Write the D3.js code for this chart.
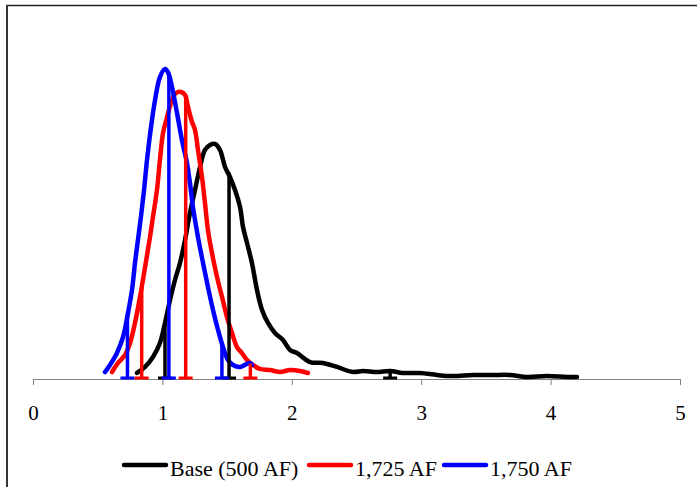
<!DOCTYPE html>
<html>
<head>
    <meta charset="utf-8">
    <style>
        body {
            margin: 0;
            background: white;
        }

        svg {
            display: block;
        }

        svg text {
            font-family: 'Liberation Serif', 'Times New Roman', serif;
        }

        .x .domain {
            stroke: #808080;
        }

        .x .tick line {
            stroke: #808080;
        }

        .legend text {
            font-size: 22px;
            fill: #000;
        }
    </style>
</head>
<body>
    <svg width="697" height="487"></svg>

<script src="https://d3js.org/d3.v7.min.js"></script>
<script>
    // curves: [x, density]
    let baseCurve = [
        [0.804, 0.051], [0.866, 0.102], [0.927, 0.186], [0.981, 0.305], [1.02, 0.475],
        [1.059, 0.669], [1.097, 0.839], [1.136, 0.983], [1.175, 1.178], [1.213, 1.407],
        [1.252, 1.602], [1.291, 1.797], [1.329, 1.941], [1.368, 1.983], [1.406, 1.992],
        [1.445, 1.941], [1.484, 1.797], [1.522, 1.712], [1.561, 1.602], [1.60, 1.458],
        [1.623, 1.288], [1.654, 1.153], [1.692, 0.983], [1.731, 0.754], [1.77, 0.585],
        [1.816, 0.475], [1.87, 0.39], [1.932, 0.33], [1.986, 0.246], [2.04, 0.22],
        [2.141, 0.144], [2.241, 0.136], [2.349, 0.102], [2.473, 0.059], [2.55, 0.068],
        [2.658, 0.059], [2.759, 0.068], [2.859, 0.051], [2.991, 0.051], [3.122, 0.034],
        [3.246, 0.025], [3.40, 0.034], [3.555, 0.034], [3.686, 0.034], [3.818, 0.017],
        [3.972, 0.025], [4.127, 0.017], [4.204, 0.017]
    ]

    let curve1725 = [
        [0.611, 0.059], [0.657, 0.136], [0.711, 0.203], [0.75, 0.305], [0.788, 0.475],
        [0.827, 0.695], [0.866, 0.949], [0.904, 1.203], [0.927, 1.373], [0.958, 1.602],
        [0.981, 1.856], [1.005, 2.085], [1.036, 2.22], [1.074, 2.364], [1.105, 2.424],
        [1.144, 2.432], [1.175, 2.407], [1.198, 2.305], [1.229, 2.178], [1.252, 2.11],
        [1.275, 1.941], [1.306, 1.712], [1.329, 1.492], [1.352, 1.263], [1.383, 1.068],
        [1.422, 0.864], [1.461, 0.695], [1.499, 0.525], [1.538, 0.39], [1.576, 0.271],
        [1.615, 0.22], [1.654, 0.161], [1.70, 0.119], [1.754, 0.085], [1.832, 0.076],
        [1.909, 0.059], [1.986, 0.076], [2.063, 0.068], [2.125, 0.051]
    ]

    let curve1750 = [
        [0.556, 0.059], [0.595, 0.119], [0.649, 0.22], [0.696, 0.356], [0.734, 0.559],
        [0.765, 0.754], [0.788, 0.983], [0.811, 1.178], [0.834, 1.373], [0.858, 1.60],
        [0.881, 1.856], [0.906, 2.085], [0.943, 2.364], [0.981, 2.559], [1.02, 2.627],
        [1.043, 2.60], [1.074, 2.475], [1.113, 2.254], [1.151, 2.025], [1.19, 1.83],
        [1.213, 1.661], [1.236, 1.458], [1.275, 1.203], [1.314, 0.983], [1.352, 0.78],
        [1.391, 0.585], [1.43, 0.415], [1.468, 0.271], [1.507, 0.161], [1.546, 0.119],
        [1.60, 0.102], [1.638, 0.119], [1.677, 0.136], [1.692, 0.119]
    ]

    // vertical markers (low, middle, high): [x, height]
    let baseMarks = [[1.02, 0.475], [1.515, 1.75], [2.76, 0.068]]
    let marks1725 = [[0.84, 0.78], [1.18, 2.40], [1.68, 0.13]]
    let marks1750 = [[0.73, 0.54], [1.05, 2.59], [1.46, 0.30]]

    let seriesNames = ["Base (500 AF)", "1,725 AF", "1,750 AF"]
    let seriesColors = ["#000000", "#ff0000", "#0000ff"]
    let xTicks = [0, 1, 2, 3, 4, 5]

    let curves = [baseCurve, curve1725, curve1750]
    let marks = [baseMarks, marks1725, marks1750]

    let svg = d3.select("svg")

    let margin = { top: 25, right: 17, bottom: 108, left: 33 }
    let width = 697
    let height = 487

    let x = d3.scaleLinear()
        .domain([0, 5])
        .range([margin.left, width - margin.right])

    let y = d3.scaleLinear()
        .domain([0, 3])
        .range([height - margin.bottom, margin.top])

    // outer frame (only top and left show in the crop)
    svg.append("line")
        .attr("x1", 6).attr("x2", width)
        .attr("y1", 5.5).attr("y2", 5.5)
        .style("stroke", "#222").style("stroke-width", 1.5)
    svg.append("line")
        .attr("x1", 7).attr("x2", 7)
        .attr("y1", 5).attr("y2", height)
        .style("stroke", "#333").style("stroke-width", 2)

    let xAxis = d3.axisBottom(x)
        .tickValues(xTicks)
        .tickFormat(d3.format("d"))
        .tickSize(6)
        .tickSizeOuter(6)

    let xAxisTicks = svg.append("g")
        .attr("class", "x axis")
        .attr("transform", `translate(0,${y(0)})`)
        .call(xAxis)

    // serif labels, baseline where the reference has them
    xAxisTicks.selectAll(".tick text")
        .attr("dy", null)
        .attr("y", 41)
        .style("font-family", "'Liberation Serif', 'Times New Roman', serif")
        .style("font-size", "21px")
        .style("fill", "#000")

    let line = d3.line()
        .x(function (d) { return x(d[0]) })
        .y(function (d) { return y(d[1]) })
        .curve(d3.curveCatmullRom.alpha(0.5))

    curves.forEach(function (c, i) {
        svg.append("path")
            .datum(c)
            .attr("d", line)
            .style("fill", "none")
            .style("stroke", seriesColors[i])
            .style("stroke-width", 4.5)
            .style("stroke-linejoin", "round")
            .style("stroke-linecap", "round")
    })

    marks.forEach(function (m, i) {
        let g = svg.append("g")
        g.selectAll(".stem")
            .data(m)
            .join("line")
            .attr("x1", function (d) { return x(d[0]) })
            .attr("x2", function (d) { return x(d[0]) })
            .attr("y1", y(0))
            .attr("y2", function (d) { return y(d[1]) })
            .style("stroke", seriesColors[i])
            .style("stroke-width", 3.5)
        g.selectAll(".cap")
            .data(m)
            .join("line")
            .attr("x1", function (d) { return x(d[0]) - 7 })
            .attr("x2", function (d) { return x(d[0]) + 7 })
            .attr("y1", y(0) - 1)
            .attr("y2", y(0) - 1)
            .style("stroke", seriesColors[i])
            .style("stroke-width", 3)
    })

    // legend
    let legendX = [124, 309, 444]
    let legend = svg.append("g").attr("class", "legend")
    seriesNames.forEach(function (name, i) {
        legend.append("line")
            .attr("x1", legendX[i]).attr("x2", legendX[i] + 42)
            .attr("y1", 465).attr("y2", 465)
            .style("stroke", seriesColors[i])
            .style("stroke-width", 4.5)
            .style("stroke-linecap", "round")
        legend.append("text")
            .attr("x", legendX[i] + 46)
            .attr("y", 476)
            .text(name)
    })
</script>
</body>
</html>
